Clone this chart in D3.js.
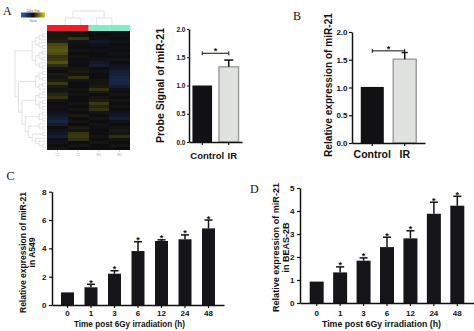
<!DOCTYPE html>
<html><head><meta charset="utf-8">
<script src="https://cdn.jsdelivr.net/npm/d3@7"></script>
<style>body{margin:0;background:#fff}svg{display:block}</style>
</head><body>
<svg id="fig" width="474" height="331"></svg>
<script>
// ---------- DATA ----------
const abCategories = ["Control", "IR"];
const aProbeValues = [1.0, 1.33];
const aProbeErrors = [0, 0.12];
const bExprValues = [1.01, 1.51];
const bExprErrors = [0, 0.12];
const abTicks = [0, 0.5, 1.0, 1.5, 2.0];

const timeCategories = ["0", "1", "3", "6", "12", "24", "48"];
const cA549Values = [0.89, 1.25, 2.21, 3.81, 4.52, 4.64, 5.41];
const cA549Errors = [0, 0.21, 0.21, 0.66, 0.08, 0.31, 0.59];
const cSignificant = [false, true, true, true, true, true, true];
const cTicks = [0, 2, 4, 6, 8];
const dBeasValues = [0.93, 1.33, 1.84, 2.43, 2.81, 3.88, 4.23];
const dBeasErrors = [0, 0.24, 0.12, 0.43, 0.33, 0.50, 0.41];
const dSignificant = [false, true, true, true, true, true, true];
const dTicks = [0, 1, 2, 3, 4, 5];

const heatColumns = ["C1", "C2", "IR1", "IR2"];
const heatGroups = ["Control", "Control", "IR", "IR"];
const heatMatrix = [
  [0.05,0.02,-0.02,0],[0.08,0.05,0,-0.05],[0.1,0.3,-0.05,0],[0.15,0.05,-0.2,-0.1],
  [0.45,0.02,-0.1,0],[0.55,0,0,-0.05],[0.6,0.05,-0.05,0],[0.5,0,0,-0.1],
  [0.3,0.05,0,0],[0.35,0,-0.1,0.05],[0.55,-0.05,-0.2,0],[0.25,0,-0.25,-0.1],
  [0.05,0.05,0,-0.15],[0,0.1,-0.05,-0.3],[0.1,0.05,0,-0.35],[0.05,0.3,0,-0.45],
  [0.1,0.05,0.05,-0.5],[0.35,0,0.05,-0.45],[0.1,0,0.1,-0.3],[0.05,0.05,0.3,-0.1],
  [0.1,0,0.1,0],[0.2,0.05,0,0.05],[0.3,0,0.05,0],[0.05,0,0.1,0.05],
  [0,0.05,0.35,0],[-0.05,0,0.2,0.05],[0,0.05,0.3,0],[-0.1,0,0.05,-0.1],
  [-0.2,0.1,0,-0.2],[-0.35,0,0.05,-0.3],[-0.45,0.05,0,-0.1],[-0.25,0,0.05,0],
  [0,0.1,-0.05,0.05],[-0.1,0.05,0,0.1],[-0.2,0.3,0,0.05],[-0.3,0.35,0.05,0.25],
  [-0.05,0.25,0,0.05],[-0.1,0,0.05,0],[0,0.05,0,0.05],[0.05,0,0,0]
];
const rowTree = [
  [
    [[[0,1],2],[3,[4,5]]],
    [[[6,7],[8,9]],[10,[11,12]]]
  ],
  [
    [[[13,14],[15,16]],[[17,18],19]],
    [
      [[[20,21],22],[[23,24],[25,26]]],
      [[[27,28],[29,30]],[[31,[32,33]],[[34,35],[36,[37,[38,39]]]]]]
    ]
  ]
];
const colTree = [[0,1],[2,3]];

// ---------- DRAW ----------
const FONT = '"Liberation Sans", Arial, Helvetica, sans-serif';
const SERIF = '"Liberation Serif", "DejaVu Serif", serif';
const INK = "#111";
const svg = d3.select("#fig");

function styleAxis(g, fs) {
  g.attr("font-family", null).attr("font-size", null);
  g.select(".domain").attr("stroke", INK).attr("stroke-width", 1.5);
  g.selectAll(".tick line").attr("stroke", INK).attr("stroke-width", 1.2);
  g.selectAll(".tick text").attr("fill", INK).attr("font-family", FONT)
    .attr("font-weight", "bold").attr("font-size", fs);
}

function barPanel(opt) {
  const g = svg.append("g");
  const x = d3.scaleBand().domain(opt.cats).range(opt.xRange)
    .paddingInner(opt.pi).paddingOuter(opt.po);
  const y = d3.scaleLinear().domain(opt.yDomain).range(opt.yRange);
  const left = opt.xRange[0];

  g.selectAll("rect.bar").data(opt.values).join("rect")
    .attr("x", (d, i) => x(opt.cats[i]))
    .attr("y", d => y(d))
    .attr("width", x.bandwidth())
    .attr("height", d => y(0) - y(d))
    .attr("fill", (d, i) => opt.fill(i))
    .attr("stroke", (d, i) => opt.stroke(i))
    .attr("stroke-width", (d, i) => opt.stroke(i) === "none" ? 0 : 1.4);

  opt.values.forEach((v, i) => {
    const e = opt.errors[i];
    if (!e) return;
    const cx = x(opt.cats[i]) + x.bandwidth() / 2;
    g.append("line").attr("x1", cx).attr("x2", cx).attr("y1", y(v)).attr("y2", y(v + e))
      .attr("stroke", INK).attr("stroke-width", 1.5);
    g.append("line").attr("x1", cx - opt.cap / 2).attr("x2", cx + opt.cap / 2)
      .attr("y1", y(v + e)).attr("y2", y(v + e)).attr("stroke", INK).attr("stroke-width", 1.5);
    if (opt.sig && opt.sig[i]) {
      g.append("text").attr("x", cx).attr("y", y(v + e) + 1.5).attr("text-anchor", "middle")
        .attr("font-family", FONT).attr("font-weight", "bold").attr("font-size", 9)
        .attr("fill", INK).text("*");
    }
  });

  const ya = g.append("g").attr("transform", `translate(${left},0)`)
    .call(d3.axisLeft(y).tickValues(opt.yTicks).tickFormat(opt.yFmt)
      .tickSize(opt.yTickSize).tickPadding(opt.yPad).tickSizeOuter(0));
  styleAxis(ya, opt.yFs);
  const xa = g.append("g").attr("transform", `translate(0,${y(0)})`)
    .call(d3.axisBottom(x).tickSize(3).tickPadding(opt.xPad).tickSizeOuter(0));
  styleAxis(xa, opt.xFs);
  if (opt.xLabelAdjust) opt.xLabelAdjust(xa.selectAll(".tick text"));

  const yl = g.append("text")
    .attr("transform", `translate(${opt.yLabelX},${opt.yLabelY}) rotate(-90)`)
    .attr("text-anchor", "middle").attr("font-family", FONT).attr("font-weight", "bold")
    .attr("fill", INK);
  opt.yLabel.forEach((t, k) => {
    const ts = yl.append("tspan").attr("x", 0).attr("y", k * opt.yLabelGap)
      .attr("font-size", opt.yLabelFs).text(t);
    if (k === 0 && opt.yLabelLen) ts.attr("textLength", opt.yLabelLen).attr("lengthAdjust", "spacingAndGlyphs");
  });

  if (opt.xTitle) {
    g.append("text").attr("x", opt.xTitleX).attr("y", opt.xTitleY).attr("text-anchor", "middle")
      .attr("font-family", FONT).attr("font-weight", "bold").attr("font-size", opt.xTitleFs)
      .attr("fill", INK).attr("textLength", opt.xTitleLen).attr("lengthAdjust", "spacingAndGlyphs")
      .text(opt.xTitle);
  }
  return {g, x, y};
}

function bracket(p, i0, i1, yv) {
  const a = p.x(abCategories[i0]) + p.x.bandwidth() / 2;
  const b = p.x(abCategories[i1]) + p.x.bandwidth() / 2;
  const yy = p.y(yv);
  p.g.append("line").attr("x1", a).attr("x2", b).attr("y1", yy).attr("y2", yy).attr("stroke", INK).attr("stroke-width", 1);
  [a, b].forEach(xx => p.g.append("line").attr("x1", xx).attr("x2", xx).attr("y1", yy - 2).attr("y2", yy + 2)
    .attr("stroke", INK).attr("stroke-width", 1));
  p.g.append("text").attr("x", (a + b) / 2).attr("y", yy + 1.2).attr("text-anchor", "middle")
    .attr("font-family", FONT).attr("font-weight", "bold").attr("font-size", 9).attr("fill", INK).text("*");
}

// Panel A bar chart
const pA = barPanel({
  cats: abCategories, values: aProbeValues, errors: aProbeErrors,
  xRange: [189, 242], pi: 0.26, po: 0.13, yDomain: [0, 2], yRange: [142, 29],
  fill: i => i === 0 ? "#111114" : "#dfe2df", stroke: i => i === 0 ? "none" : "#9a9a9a",
  cap: 9, yTicks: abTicks, yFmt: d3.format(".1f"), yTickSize: 2, yPad: 1.5, yFs: 6.5,
  xPad: 7, xFs: 9.5,
  xLabelAdjust: sel => sel.attr("dx", d => d === "Control" ? 5 : 3.5),
  yLabel: ["Probe Signal of miR-21"], yLabelX: 163.8, yLabelY: 85.5, yLabelFs: 10.5, yLabelLen: 115, yLabelGap: 0
});
bracket(pA, 0, 1, 1.57);

// Panel B
const pB = barPanel({
  cats: abCategories, values: bExprValues, errors: bExprErrors,
  xRange: [352, 425], pi: 0.29, po: 0.27, yDomain: [0, 2], yRange: [143, 32],
  fill: i => i === 0 ? "#111114" : "#dfe2df", stroke: i => i === 0 ? "none" : "#9a9a9a",
  cap: 6, yTicks: abTicks, yFmt: d3.format(".1f"), yTickSize: 3, yPad: 1.5, yFs: 8,
  xPad: 5, xFs: 10.5,
  yLabel: ["Relative expression of miR-21"], yLabelX: 331.6, yLabelY: 85, yLabelFs: 10, yLabelLen: 144, yLabelGap: 0
});
bracket(pB, 0, 1, 1.66);

// Panel C
barPanel({
  cats: timeCategories, values: cA549Values, errors: cA549Errors, sig: cSignificant,
  xRange: [52, 224], pi: 0.447, po: 0.383, yDomain: [0, 8], yRange: [305, 191.7],
  fill: () => "#16161a", stroke: () => "none",
  cap: 8, yTicks: cTicks, yFmt: d3.format("d"), yTickSize: 3, yPad: 2.5, yFs: 8,
  xPad: 2.8, xFs: 8,
  yLabel: ["Relative expression of miR-21", "in A549"], yLabelX: 26, yLabelY: 252.5,
  yLabelFs: 8.5, yLabelLen: 121, yLabelGap: 9,
  xTitle: "Time post 6Gy irradiation (h)", xTitleX: 129.5, xTitleY: 327, xTitleFs: 9.5, xTitleLen: 111
});

// Panel D
barPanel({
  cats: timeCategories, values: dBeasValues, errors: dBeasErrors, sig: dSignificant,
  xRange: [300, 474], pi: 0.4025, po: 0.414, yDomain: [0, 5], yRange: [303, 188],
  fill: () => "#16161a", stroke: () => "none",
  cap: 8, yTicks: dTicks, yFmt: d3.format("d"), yTickSize: 3, yPad: 2.5, yFs: 8,
  xPad: 4.8, xFs: 8,
  yLabel: ["Relative expression of miR-21", "in BEAS-2B"], yLabelX: 279, yLabelY: 247.5,
  yLabelFs: 9, yLabelLen: 129, yLabelGap: 9.5,
  xTitle: "Time post 6Gy irradiation (h)", xTitleX: 381.5, xTitleY: 327, xTitleFs: 9.5, xTitleLen: 119
});

// ---------- Heatmap (panel A) ----------
const hm = svg.append("g");
const hx = d3.scaleBand().domain(d3.range(heatColumns.length)).range([47, 130]);
const hy = d3.scaleBand().domain(d3.range(heatMatrix.length)).range([31, 150]);
const heatColor = d3.scaleLinear().domain([-1.6, 0, 1.6]).range(["#2f5fc8", "#0e0e10", "#d8d014"]);
const groupColor = d3.scaleOrdinal().domain(["Control", "IR"]).range(["#e8202e", "#80ecc8"]);

hm.append("rect").attr("x", hx.range()[0]).attr("y", hy.range()[0])
  .attr("width", hx.range()[1] - hx.range()[0]).attr("height", hy.range()[1] - hy.range()[0])
  .attr("fill", heatColor(0));
heatMatrix.forEach((row, r) => {
  hm.selectAll(null).data(row).join("rect")
    .attr("x", (d, c) => hx(c)).attr("y", hy(r))
    .attr("width", hx.bandwidth() + 0.3).attr("height", hy.bandwidth() + 0.3)
    .attr("fill", d => heatColor(d)).attr("shape-rendering", "crispEdges");
});
hm.selectAll("rect.grp").data(heatGroups).join("rect")
  .attr("x", (d, c) => hx(c)).attr("y", 25).attr("width", hx.bandwidth() + 0.3).attr("height", 6)
  .attr("fill", d => groupColor(d));

heatColumns.forEach((name, c) => {
  const cx = hx(c) + hx.bandwidth() / 2;
  hm.append("line").attr("x1", cx).attr("x2", cx).attr("y1", 150).attr("y2", 152)
    .attr("stroke", "#aaa").attr("stroke-width", 0.6);
  hm.append("text").attr("x", cx).attr("y", 155.5).attr("text-anchor", "middle")
    .attr("font-family", FONT).attr("font-size", 3).attr("fill", "#aaa").text(name);
});

const DGRAY = "#cfcfcf";
function drawDendro(root, posFn) {
  root.descendants().forEach(n => {
    if (!n.children) return;
    const xs = n.children.map(ch => ch.x);
    const [ax, ay] = posFn(d3.min(xs), n.y), [bx, by] = posFn(d3.max(xs), n.y);
    hm.append("line").attr("x1", ax).attr("y1", ay).attr("x2", bx).attr("y2", by)
      .attr("stroke", DGRAY).attr("stroke-width", 0.6);
    n.children.forEach(ch => {
      const [p1x, p1y] = posFn(ch.x, n.y), [p2x, p2y] = posFn(ch.x, ch.y);
      hm.append("line").attr("x1", p1x).attr("y1", p1y).attr("x2", p2x).attr("y2", p2y)
        .attr("stroke", DGRAY).attr("stroke-width", 0.6);
    });
  });
}
const rowRoot = d3.hierarchy(rowTree, d => Array.isArray(d) ? d : null);
d3.cluster().separation(() => 1).size([hy.step() * (heatMatrix.length - 1), 31])(rowRoot);
const r0 = hy(0) + hy.bandwidth() / 2;
drawDendro(rowRoot, (a, b) => [15 + b, r0 + a]);
const colRoot = d3.hierarchy(colTree, d => Array.isArray(d) ? d : null);
d3.cluster().separation(() => 1).size([hx.step() * (heatColumns.length - 1), 14])(colRoot);
const c0 = hx(0) + hx.bandwidth() / 2;
drawDendro(colRoot, (a, b) => [c0 + a, 11 + b]);

const defs = svg.append("defs");
const grad = defs.append("linearGradient").attr("id", "key");
[-1.6, 0, 1.6].forEach(v => grad.append("stop").attr("offset", `${(v + 1.6) / 3.2 * 100}%`).attr("stop-color", heatColor(v)));
hm.append("rect").attr("x", 21).attr("y", 12.5).attr("width", 24).attr("height", 5).attr("fill", "url(#key)");
hm.append("text").attr("x", 33).attr("y", 11.5).attr("text-anchor", "middle").attr("font-family", FONT)
  .attr("font-size", 3).attr("fill", "#555").text("Color Key");
hm.append("text").attr("x", 33).attr("y", 21.5).attr("text-anchor", "middle").attr("font-family", FONT)
  .attr("font-size", 3).attr("fill", "#3a6cd8").text("Value");

[["A", 3, 14.5], ["B", 293, 19.5], ["C", 6.5, 179.5], ["D", 250, 192.5]].forEach(([t, x, y]) =>
  svg.append("text").attr("x", x).attr("y", y).attr("font-family", SERIF).attr("font-size", 12)
    .attr("fill", INK).text(t));
</script>
</body></html>
